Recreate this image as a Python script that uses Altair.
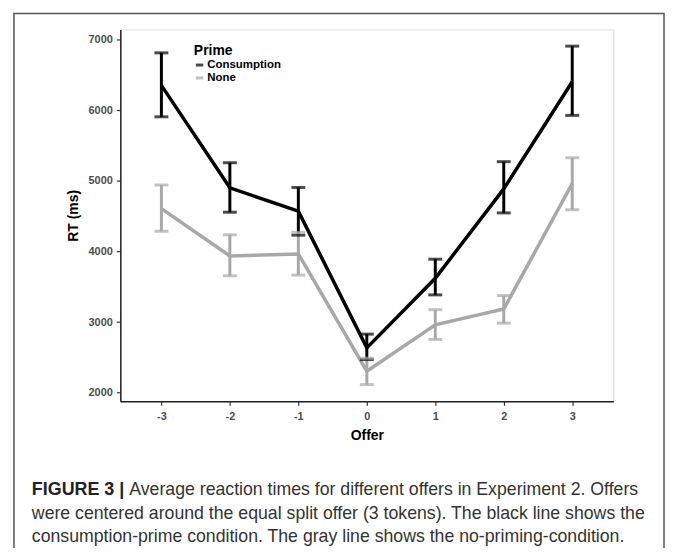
import altair as alt
import pandas as pd

offers = [-3, -2, -1, 0, 1, 2, 3]
cons_mean = [6350, 4900, 4570, 2635, 3620, 4885, 6400]
cons_lo = [5905, 4555, 4230, 2470, 3385, 4545, 5925]
cons_hi = [6810, 5255, 4905, 2830, 3890, 5270, 6905]
none_mean = [4605, 3935, 3965, 2305, 2960, 3185, 4960]
none_lo = [4285, 3655, 3665, 2115, 2755, 2985, 4590]
none_hi = [4940, 4235, 4270, 2490, 3175, 3375, 5325]
groups = ["Consumption", "None"]
colors = ["#000000", "#a8a8a8"]
y_ticks = [2000, 3000, 4000, 5000, 6000, 7000]

caption_bold = "FIGURE 3 |"
caption_l1 = "Average reaction times for different offers in Experiment 2. Offers"
caption_rest = ["were centered around the equal split offer (3 tokens). The black line shows the",
                "consumption-prime condition. The gray line shows the no-priming-condition."]

rows = []
for g, m, lo, hi in [("Consumption", cons_mean, cons_lo, cons_hi), ("None", none_mean, none_lo, none_hi)]:
    for o, a, b, c in zip(offers, m, lo, hi):
        rows.append({"Offer": o, "Prime": g, "RT": a, "lo": b, "hi": c})
df = pd.DataFrame(rows)

xs = alt.Scale(domain=[-3.6, 3.6], nice=False, zero=False)
ys = alt.Scale(domain=[1880, 7140], nice=False, zero=False)
cs = alt.Scale(domain=groups, range=colors)

FONT = "Liberation Sans"

x_enc = alt.X("Offer:Q", scale=xs, title="Offer",
              axis=alt.Axis(values=offers, labelExpr="datum.value + ''", grid=False,
                            domainColor="#222222", domainWidth=1.5, tickColor="#333333",
                            tickWidth=1.2, tickSize=4,
                            labelFont=FONT, labelFontWeight="bold", labelFontSize=11,
                            labelColor="#4d4d4d", labelPadding=5,
                            titleFont=FONT, titleFontWeight="bold", titleFontSize=14,
                            titleColor="#000000", titlePadding=7))
y_axis = alt.Axis(values=y_ticks, format="d", grid=False, domainColor="#222222", domainWidth=1.5,
                  tickColor="#333333", tickWidth=1.2, tickSize=4,
                  labelFont=FONT, labelFontWeight="bold", labelFontSize=11,
                  labelColor="#4d4d4d", labelPadding=4,
                  titleFont=FONT, titleFontWeight="bold", titleFontSize=14,
                  titleColor="#000000", titlePadding=8)

base = alt.Chart(df)

lines = base.mark_line(strokeWidth=3.5).encode(
    x=x_enc,
    y=alt.Y("RT:Q", scale=ys, title="RT (ms)", axis=y_axis),
    color=alt.Color("Prime:N", scale=cs,
                    legend=alt.Legend(orient="none", legendX=74, legendY=15,
                                      title="Prime", titleFont=FONT, titleFontSize=14,
                                      titleFontWeight="bold", titleColor="#000000",
                                      titlePadding=1, labelFont=FONT, labelFontSize=11.5,
                                      labelFontWeight="bold", labelColor="#000000",
                                      symbolType="stroke", symbolSize=56,
                                      symbolStrokeWidth=3, labelOffset=2, rowPadding=0)),
)

rules = base.mark_rule(strokeWidth=3).encode(
    x=alt.X("Offer:Q", scale=xs),
    y=alt.Y("lo:Q", scale=ys),
    y2="hi:Q",
    color=alt.Color("Prime:N", scale=cs),
)
cap_lo = base.mark_tick(orient="horizontal", size=14, thickness=3).encode(
    x=alt.X("Offer:Q", scale=xs),
    y=alt.Y("lo:Q", scale=ys),
    color=alt.Color("Prime:N", scale=cs),
)
cap_hi = base.mark_tick(orient="horizontal", size=14, thickness=3).encode(
    x=alt.X("Offer:Q", scale=xs),
    y=alt.Y("hi:Q", scale=ys),
    color=alt.Color("Prime:N", scale=cs),
)

cap_df1 = pd.DataFrame({"t": [caption_bold]})
cap_df2 = pd.DataFrame({"t": [caption_l1]})
cap_df3 = pd.DataFrame({"t": ["\n".join(caption_rest)]})

t1 = alt.Chart(cap_df1).mark_text(align="left", baseline="alphabetic", font=FONT, fontSize=18,
                                  fontWeight="bold", color="#222222").encode(
    x=alt.value(-89), y=alt.value(468), text="t:N")
t2 = alt.Chart(cap_df2).mark_text(align="left", baseline="alphabetic", font=FONT, fontSize=17.8,
                                  color="#333333").encode(
    x=alt.value(9), y=alt.value(468), text="t:N")
t3 = alt.Chart(cap_df3).mark_text(align="left", baseline="alphabetic", font=FONT, fontSize=17.8,
                                  color="#333333", lineBreak="\n", lineHeight=24).encode(
    x=alt.value(-89), y=alt.value(492), text="t:N")

border = alt.Chart(pd.DataFrame({"b": [0]})).mark_rect(
    fillOpacity=0, stroke="#555555", strokeWidth=1.5).encode(
    x=alt.value(-107), x2=alt.value(547), y=alt.value(-16), y2=alt.value(600))

chart = alt.layer(border, lines, rules, cap_lo, cap_hi, t1, t2, t3).properties(
    width=496, height=374,
    autosize=alt.AutoSizeParams(type="none"),
    padding={"left": 113, "top": 20, "right": 52, "bottom": 146},
).configure_view(stroke=None).configure(background="white")

chart.save("out.html", embed_options={"renderer": "svg", "actions": False})
